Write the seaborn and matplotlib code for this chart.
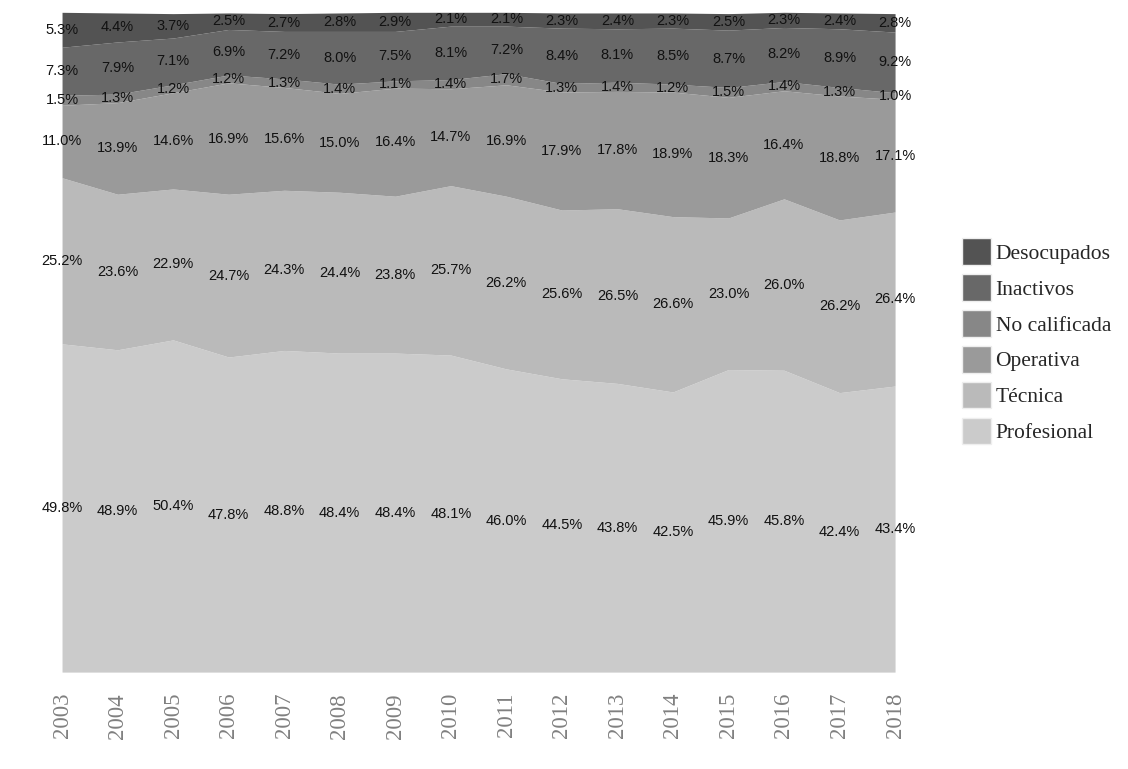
import matplotlib
matplotlib.use("Agg")
import matplotlib.pyplot as plt
import numpy as np
import seaborn as sns
import pandas as pd

years = list(range(2003, 2019))
categories = ['Profesional', 'Técnica', 'Operativa', 'No calificada', 'Inactivos', 'Desocupados']

profesional = [49.8, 48.9, 50.4, 47.8, 48.8, 48.4, 48.4, 48.1, 46.0, 44.5, 43.8, 42.5, 45.9, 45.8, 42.4, 43.4]
tecnica = [25.2, 23.6, 22.9, 24.7, 24.3, 24.4, 23.8, 25.7, 26.2, 25.6, 26.5, 26.6, 23.0, 26.0, 26.2, 26.4]
operativa = [11.0, 13.9, 14.6, 16.9, 15.6, 15.0, 16.4, 14.7, 16.9, 17.9, 17.8, 18.9, 18.3, 16.4, 18.8, 17.1]
no_calificada = [1.5, 1.3, 1.2, 1.2, 1.3, 1.4, 1.1, 1.4, 1.7, 1.3, 1.4, 1.2, 1.5, 1.4, 1.3, 1.0]
inactivos = [7.3, 7.9, 7.1, 6.9, 7.2, 8.0, 7.5, 8.1, 7.2, 8.4, 8.1, 8.5, 8.7, 8.2, 8.9, 9.2]
desocupados = [5.3, 4.4, 3.7, 2.5, 2.7, 2.8, 2.9, 2.1, 2.1, 2.3, 2.4, 2.3, 2.5, 2.3, 2.4, 2.8]

colors = ['#cbcbcb', '#bababa', '#9a9a9a', '#878787', '#686868', '#535353']

df = pd.DataFrame({'year': years, 'Profesional': profesional, 'Técnica': tecnica,
                   'Operativa': operativa, 'No calificada': no_calificada,
                   'Inactivos': inactivos, 'Desocupados': desocupados})

sns.set_theme(style='white')
plt.rcParams['font.family'] = ['Liberation Sans', 'DejaVu Sans']

fig = plt.figure(figsize=(11.28, 7.69), dpi=100)
ax = fig.add_axes([0.055, 0.126, 0.7385, 0.858])

values = df[categories].to_numpy().T
ax.stackplot(df['year'], values, colors=colors, labels=categories, linewidth=0)

# percentage labels in the middle of each band
cum = np.cumsum(values, axis=0)
for i, cat in enumerate(categories):
    mids = cum[i] - values[i] / 2
    for x, y, v in zip(df['year'], mids, values[i]):
        ax.text(x, y, f"{v:.1f}%", ha='center', va='center', fontsize=10.5,
                color='#111111', clip_on=False)

ax.set_xlim(2003, 2018)
ax.set_ylim(0, cum[-1].max())
ax.set_yticks([])
ax.set_xticks(years)
ax.set_xticklabels([str(y) for y in years], rotation=90, family='Liberation Serif',
                   fontsize=16.5, color='#808080')
ax.tick_params(axis='x', length=0, pad=15)
sns.despine(ax=ax, left=True, bottom=True)

handles, labels = ax.get_legend_handles_labels()
leg = fig.legend(handles[::-1], labels[::-1], loc='upper left', bbox_to_anchor=(0.853, 0.69),
                 frameon=False, prop={'family': 'Liberation Serif', 'size': 15.5},
                 handlelength=1.35, handleheight=1.5, labelspacing=0.45,
                 handletextpad=0.2, borderpad=0, borderaxespad=0)
for p in leg.get_patches():
    p.set_edgecolor('#eeeeee')
    p.set_linewidth(1)

fig.savefig('out.png', dpi=100)
